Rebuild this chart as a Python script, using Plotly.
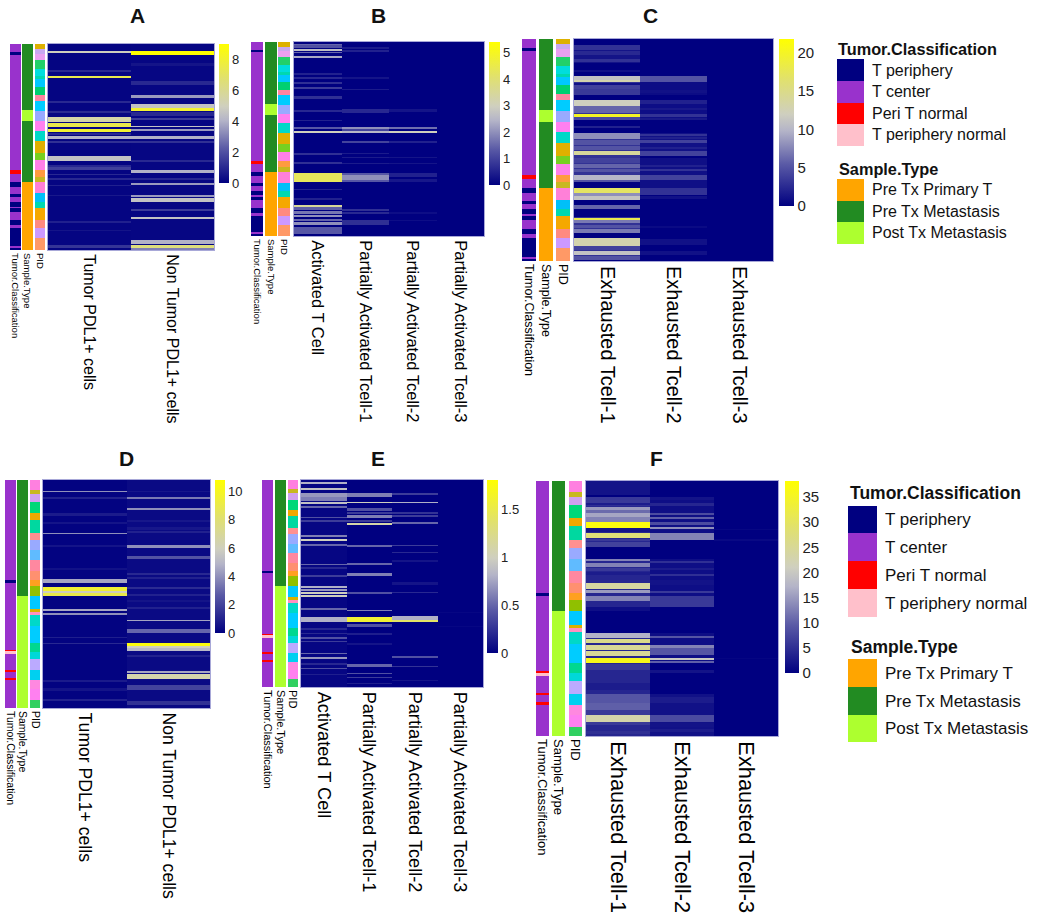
import plotly.graph_objects as go

W, H = 1050, 924
FONT = "Liberation Sans"

# ---------- annotation tracks: (start %, end %, category) ----------
TUMOR_NAMES = ["T periphery", "T center", "Peri T normal", "T periphery normal"]
TUMOR_COLORS = ["#000080", "#9932CC", "#FF0000", "#FFC0CB"]
SAMPLE_NAMES = ["Pre Tx Primary T", "Pre Tx Metastasis", "Post Tx Metastasis"]
SAMPLE_COLORS = ["#FFA500", "#228B22", "#ADFF2F"]

TOP_TUMOR = [(0, 4, 1), (4, 5.2, 0), (5.2, 61.2, 1), (61.2, 63, 2), (63, 67, 1), (67, 69.3, 0), (69.3, 72.8, 1),
             (72.8, 74.3, 0), (74.3, 76.7, 1), (76.7, 79, 0), (79, 79.8, 1), (79.8, 81.4, 0), (81.4, 85.5, 1),
             (85.5, 88, 0), (88, 89.5, 1), (89.5, 98, 0), (98, 99, 1), (99, 100, 0)]
TOP_SAMPLE = [(0, 32.1, 1), (32.1, 37.4, 2), (37.4, 67, 1), (67, 100, 0)]
TOP_PID = [(0, 2.4, "#DDB100"), (2.4, 4.7, "#C8A8F0"), (4.7, 7.9, "#E9A0F0"), (7.9, 12.1, "#22D06A"),
           (12.1, 15.7, "#00DDDD"), (15.7, 17, "#00D8B0"), (17, 20.8, "#00C8FF"), (20.8, 24.9, "#00D070"),
           (24.9, 27.5, "#FF85A0"), (27.5, 32.3, "#00CCFF"), (32.3, 37.2, "#99AAFF"), (37.2, 42, "#FF80F0"),
           (42, 46.9, "#00D8C8"), (46.9, 52.7, "#E0B000"), (52.7, 56.5, "#77D020"), (56.5, 61.4, "#FF80E8"),
           (61.4, 64.6, "#FF9B40"), (64.6, 67, "#C8B820"), (67, 72.5, "#FF80D8"), (72.5, 76.6, "#00C0F8"),
           (76.6, 79.8, "#00D8B0"), (79.8, 85.5, "#F5A800"), (85.5, 89.5, "#FF8A80"), (89.5, 94.3, "#CC99FF"),
           (94.3, 100, "#FF9966")]

BOT_TUMOR = [(0, 43.9, 1), (43.9, 45.1, 0), (45.1, 74.4, 1), (74.4, 75.1, 2), (75.1, 76.3, 3), (76.3, 83.3, 1),
             (83.3, 84, 2), (84, 86.8, 1), (86.8, 87.8, 2), (87.8, 100, 1)]
BOT_SAMPLE = [(0, 51, 1), (51, 100, 2)]
BOT_PID = [(0, 4.4, "#FF80E0"), (4.4, 6.3, "#C8B820"), (6.3, 9.5, "#D0A0F0"), (9.5, 14.6, "#00D878"),
           (14.6, 17.6, "#F0A800"), (17.6, 23.1, "#00D8A0"), (23.1, 26.1, "#FF9090"), (26.1, 30.7, "#99AAFF"),
           (30.7, 35.1, "#60BBFF"), (35.1, 40, "#FF88A0"), (40, 43.9, "#FF9070"), (43.9, 46.6, "#FFA020"),
           (46.6, 51, "#90C000"), (51, 56.4, "#00C8FF"), (56.4, 57.8, "#D8B000"), (57.8, 59.4, "#FF90C0"),
           (59.4, 64.1, "#00D8C8"), (64.1, 71.5, "#00CCFF"), (71.5, 75.4, "#00D890"), (75.4, 78.6, "#00D8D8"),
           (78.6, 83.5, "#BBAAFF"), (83.5, 87.8, "#00D0F0"), (87.8, 91.8, "#FF88E0"), (91.8, 96.3, "#FF80F0"),
           (96.3, 100, "#30D060")]

# ---------- expression bands per column: (first row, end row, value); later bands overwrite earlier ----------
A_ROWS = 206
A_TUMOR = [(0, 206, .12), (7, 9, 5), (26, 28, 1), (32, 34, 7.5), (57, 59, 1), (67, 69, 1), (73, 78, 5.5), (79, 83, 7.5), (85, 88, 8),
           (89, 91, 1), (92, 95, 4), (97, 99, 1.2), (112, 117, 4.5), (121, 123, 1), (123, 126, 1.6), (130, 131, 1),
           (134, 136, 1), (141, 142, .8), (151, 152, .6), (177, 179, .8), (186, 187, .5), (201, 204, 1.3)]
A_NONTUMOR = [(0, 206, .15), (7, 11, 9), (19, 22, .5), (37, 41, 1), (51, 54, 3.5), (60, 64, 4.5), (64, 67, 8), (68, 72, 1), (74, 76, 1.5),
              (82, 83, 4.5), (85, 87, 3.5), (92, 95, 4), (97, 99, 1.2), (116, 118, 1), (126, 129, 4), (134, 136, 1),
              (139, 141, 3.5), (151, 153, 3.5), (154, 158, 4.5), (165, 167, 1.5), (173, 175, 4.5), (196, 200, 4),
              (201, 204, 6.5), (204, 206, 3)]

B_ROWS = 194
B_ACTIVATED = [(2, 3, 1.5), (3, 6, 1.2), (7, 9, 2.6), (10, 11, 1.5), (14, 16, 2.3), (31, 33, .5), (35, 37, .6), (40, 42, .7),
               (45, 47, .9), (54, 57, .7), (68, 70, .6), (78, 79, .5), (85, 87, 1.3), (89, 91, 3), (111, 113, .7),
               (120, 122, .7), (131, 140, 4.3), (147, 148, .5), (156, 158, .5), (163, 165, 3.5), (165, 168, 1.4),
               (169, 172, 1.7), (173, 175, 2), (177, 179, 1.5), (180, 183, 2), (185, 192, 1.3)]
B_PARTIAL1 = [(5, 7, .4), (8, 10, .5), (35, 37, .3), (47, 48, .4), (67, 71, .6), (85, 87, 2), (87, 89, 1), (89, 91, 2.5),
              (99, 101, 1), (111, 112, .4), (115, 116, .4), (121, 122, .4), (131, 133, 1.3), (133, 138, 2), (138, 140, 1.3),
              (167, 169, .7), (170, 172, .6), (178, 180, .7), (180, 183, .7)]
B_PARTIAL2 = [(67, 70, .3), (85, 87, 1.6), (89, 91, 3), (99, 101, .5), (115, 116, .3), (121, 122, .3), (131, 135, .5),
              (137, 140, .35), (170, 172, .2), (178, 179, .2)]
B_PARTIAL3 = []

C_ROWS = 222
C_EXH1 = [(6, 24, 1.2), (37, 56, 3), (61, 81, 3), (87, 89, 2), (94, 143, 3), (149, 161, 4), (166, 170, 3), (181, 194, 3), (199, 221, 3),
          (6, 11, 3), (12, 16, 2.5), (20, 23, 3), (31, 33, 1), (37, 41, 11), (41, 43, 13), (44, 46, 1), (46, 50, 4),
          (50, 56, 3.5), (61, 67, 12), (67, 74, 6), (75, 78, 20), (78, 81, 4.5), (94, 100, 8), (101, 106, 5),
          (107, 111, 5), (112, 116, 14), (119, 124, 4), (125, 129, 6), (130, 133, 5), (136, 141, 10), (141, 143, 5),
          (149, 154, 17), (154, 157, 8), (157, 161, 11), (166, 170, 6), (178, 179, 3), (179, 181, 18), (181, 184, 7),
          (186, 189, 5), (190, 194, 7), (199, 207, 13), (207, 211, 4), (212, 216, 11), (217, 221, 5)]
C_EXH2 = [(37, 56, .7), (61, 81, .8), (94, 117, 1), (119, 156, .9), (37, 43, 5), (51, 54, 1), (61, 65, 2), (69, 71, 1.5), (75, 78, 3), (79, 81, 1.5), (95, 97, 3), (98, 100, 2),
          (101, 104, 4), (108, 110, 2), (112, 117, 4), (126, 128, 2), (130, 132, 3), (136, 141, 4), (149, 156, 3),
          (157, 160, 1), (187, 189, .6), (200, 206, 1), (212, 216, 1)]
C_EXH3 = []

D_ROWS = 228
D_TUMOR = [(0, 228, .1), (11, 12, 4), (17, 19, 1), (33, 36, .8), (42, 44, .6), (53, 54, 4), (65, 67, .6), (88, 90, .5), (99, 103, 4.5),
           (107, 111, 9.5), (111, 113, 6), (113, 116, 9), (129, 131, 4.5), (133, 135, 4), (157, 158, .9), (163, 164, 1.2),
           (200, 202, .8), (208, 211, .6), (219, 221, 1)]
D_NONTUMOR = [(0, 228, .3), (11, 12, .7), (17, 19, 3.5), (28, 30, 4), (40, 42, .7), (47, 50, .7), (51, 53, 1), (65, 68, 4), (76, 79, 2.5),
              (93, 95, 1.2), (97, 99, 1), (107, 109, 1.3), (114, 116, 1), (120, 122, .6), (127, 129, 1), (140, 141, 4.5),
              (149, 153, 3), (163, 166, 10.5), (166, 168, 6), (168, 171, 5), (175, 177, 1), (191, 193, 4.5), (194, 199, 6.5),
              (205, 210, 2), (221, 225, 1.5)]

E_ROWS = 207
E_ACTIVATED = [(0, 207, .03), (2, 4, .8), (8, 10, .9), (13, 17, .7), (17, 21, .6), (22, 24, .9), (26, 28, .5), (37, 38, .4), (40, 42, .3),
               (55, 57, .6), (59, 61, 1), (64, 66, .5), (84, 85, .5), (87, 89, .2), (95, 97, .3), (106, 108, .8), (109, 111, .7),
               (112, 114, 1), (115, 117, 1), (128, 130, .5), (137, 142, .8), (148, 150, .2), (153, 154, .2), (157, 159, .4),
               (161, 162, .3), (173, 174, .5), (177, 179, .7), (183, 185, .2), (188, 189, .4), (194, 195, .15)]
E_PARTIAL1 = [(13, 17, .6), (22, 23, 1), (28, 31, .4), (32, 34, .3), (35, 38, .6), (40, 42, .3), (43, 45, 1.1), (65, 67, .5),
              (83, 85, .5), (93, 96, .6), (112, 114, .4), (130, 131, .6), (137, 142, 1.6), (144, 147, .4), (153, 155, .15),
              (163, 165, .1), (184, 187, .5), (193, 194, .4), (197, 198, .3), (203, 204, .15)]
E_PARTIAL2 = [(13, 15, .3), (22, 23, .8), (32, 34, .25), (35, 37, .3), (42, 44, .5), (65, 66, .3), (72, 73, .2), (80, 82, .1),
              (102, 105, .1), (112, 113, .2), (136, 138, .8), (138, 140, .8), (140, 142, 1.4), (176, 178, .4), (186, 187, .25),
              (200, 201, .1)]
E_PARTIAL3 = [(132, 133, .03), (146, 147, .03)]

F_ROWS = 255
F_EXH1 = [(0, 14, 2), (16, 25, 5), (25, 66, 4), (78, 126, 4), (126, 130, 1.5), (152, 196, 4), (196, 255, 4),
          (2, 9, 2), (16, 22, 6), (22, 24, 3), (26, 29, 15), (29, 32, 11), (32, 36, 16), (36, 41, 13), (41, 47, 37), (47, 51, 2),
          (52, 57, 28), (58, 60, 6), (61, 66, 7), (78, 80, 13), (82, 86, 13), (87, 90, 6), (91, 94, 3), (102, 108, 24),
          (109, 112, 15), (113, 115, 4), (115, 120, 13), (121, 126, 4), (152, 157, 17), (158, 162, 26), (164, 169, 25),
          (170, 175, 25), (177, 182, 36), (183, 189, 6), (189, 196, 4), (202, 209, 3), (213, 222, 9), (222, 229, 10),
          (229, 234, 6), (234, 241, 23), (241, 244, 6), (245, 249, 4), (250, 253, 5)]
F_EXH2 = [(16, 59, 1.5), (78, 126, 1.5), (152, 182, 1.5), (213, 255, 1.8), (16, 19, 2), (22, 25, 4), (32, 34, 8), (36, 38, 10), (41, 44, 8), (46, 48, 14), (52, 59, 13), (80, 82, 5), (87, 89, 3),
          (93, 95, 5), (99, 104, 2), (110, 112, 6), (115, 126, 6), (155, 157, 9), (164, 167, 13), (167, 174, 9), (177, 179, 20),
          (180, 182, 10), (189, 192, 2), (216, 222, 3), (234, 241, 8), (242, 246, 2), (248, 251, 3)]
F_EXH3 = [(48, 49, .7), (58, 60, 1), (177, 178, .5)]

# ---------- category labels ----------
PDL1_LABELS = ["Tumor PDL1+ cells", "Non Tumor PDL1+ cells"]
ACT_LABELS = ["Activated T Cell", "Partially Activated Tcell-1", "Partially Activated Tcell-2", "Partially Activated Tcell-3"]
EXH_LABELS = ["Exhausted Tcell-1", "Exhausted Tcell-2", "Exhausted Tcell-3"]
TRACK_LABELS = ["Tumor.Classification", "Sample.Type", "PID"]

HEAT_SCALE = [[0, "#000080"], [.25, "#5a5aa6"], [.45, "#b4b4c8"], [.55, "#cfcfbf"], [.75, "#e0e070"], [1, "#ffff00"]]

# ---------- panels ----------
PANELS = [
    dict(name="A", tx=137, ty=15, rows=A_ROWS, cols=[A_TUMOR, A_NONTUMOR], labels=PDL1_LABELS, top=True, vmax=9.0, dtick=2,
         tr=[(10, 21), (22, 33), (35, 45)], heat=(48, 214), y=(44, 250), cb=(219, 229, 183), lf=16, tf=9.5, cf=13),
    dict(name="B", tx=378, ty=15, rows=B_ROWS, cols=[B_ACTIVATED, B_PARTIAL1, B_PARTIAL2, B_PARTIAL3], labels=ACT_LABELS, top=True,
         vmax=5.4, dtick=1, tr=[(251, 263), (265, 277), (278, 290)], heat=(294, 484), y=(42, 236), cb=(489, 500, 185), lf=16.5, tf=9.5, cf=13),
    dict(name="C", tx=650, ty=15, rows=C_ROWS, cols=[C_EXH1, C_EXH2, C_EXH3], labels=EXH_LABELS, top=True, vmax=21.8, dtick=5,
         tr=[(522, 536), (539, 553), (556, 570)], heat=(574, 773), y=(39, 261), cb=(779, 794, 206), lf=20, tf=12.5, cf=15),
    dict(name="D", tx=126, ty=458, rows=D_ROWS, cols=[D_TUMOR, D_NONTUMOR], labels=PDL1_LABELS, top=False, vmax=10.8, dtick=2,
         tr=[(5, 16), (17, 28), (30, 40)], heat=(43, 210), y=(480, 708), cb=(215, 225, 633), lf=17.6, tf=10.5, cf=13),
    dict(name="E", tx=378, ty=458, rows=E_ROWS, cols=[E_ACTIVATED, E_PARTIAL1, E_PARTIAL2, E_PARTIAL3], labels=ACT_LABELS, top=False,
         vmax=1.81, dtick=.5, tr=[(262, 273), (275, 286), (288, 298)], heat=(301, 483), y=(480, 687), cb=(487, 498, 653), lf=18.2, tf=11, cf=13),
    dict(name="F", tx=656, ty=458, rows=F_ROWS, cols=[F_EXH1, F_EXH2, F_EXH3], labels=EXH_LABELS, top=False, vmax=38.2, dtick=5,
         tr=[(536, 549), (552, 565), (569, 582)], heat=(586, 778), y=(481, 736), cb=(785, 799, 673), lf=21.8, tf=13, cf=15),
]

# ---------- legends ----------
LEGENDS = [
    dict(title="Tumor.Classification", names=TUMOR_NAMES, colors=TUMOR_COLORS, tx=837, ty=49, sx=(837, 864),
         edges=[59, 81, 103, 124, 146], lx=871, tsize=16.3, size=16),
    dict(title="Sample.Type", names=SAMPLE_NAMES, colors=SAMPLE_COLORS, tx=838, ty=169, sx=(837, 864),
         edges=[179, 201, 222, 244], lx=871, tsize=16.3, size=16),
    dict(title="Tumor.Classification", names=TUMOR_NAMES, colors=TUMOR_COLORS, tx=849, ty=493, sx=(848, 877),
         edges=[506, 533, 561, 589, 617], lx=884, tsize=17.5, size=17),
    dict(title="Sample.Type", names=SAMPLE_NAMES, colors=SAMPLE_COLORS, tx=850, ty=647, sx=(848, 877),
         edges=[659, 687, 715, 742], lx=884, tsize=17.5, size=17),
]


def px(v):
    return v / W


def py(v):
    return 1 - v / H


def raster(col, rows):
    out = [0.0] * rows
    for a, b, v in col:
        for i in range(a, min(b, rows)):
            out[i] = v
    return out


fig = go.Figure()
layout = {}
axis_no = [0]


def new_axes(xdom, ydom, labels, font_size, yrange, standoff=3, border=False):
    axis_no[0] += 1
    n = axis_no[0]
    sx = "" if n == 1 else str(n)
    layout["xaxis" + sx] = dict(
        domain=[px(xdom[0]), px(xdom[1])], anchor="y" + sx, type="category", categoryorder="array", categoryarray=labels,
        range=[-.5, len(labels) - .5], side="bottom", tickangle=90, ticks="", ticklen=0, showgrid=False, zeroline=False,
        tickfont=dict(family=FONT, size=font_size, color="#000000"), ticklabelstandoff=standoff, automargin=False,
        showline=border, linecolor="#a8a8d8", linewidth=1, mirror=border, fixedrange=True)
    layout["yaxis" + sx] = dict(
        domain=[py(ydom[1]), py(ydom[0])], anchor="x" + sx, range=yrange, showticklabels=False, ticks="", showgrid=False,
        zeroline=False, showline=border, linecolor="#a8a8d8", linewidth=1, mirror=border, fixedrange=True)
    return "x" + sx, "y" + sx


def step_scale(colors):
    n = len(colors)
    scale = []
    for i, c in enumerate(colors):
        scale.append([i / n, c])
        scale.append([(i + 1) / n, c])
    return scale


def add_track(bands, label, palette, xdom, ydom, font_size):
    xa, ya = new_axes(xdom, ydom, [label], font_size, [100, 0], standoff=2)
    edges = [bands[0][0]] + [b[1] for b in bands]
    if palette is None:
        colors = [b[2] for b in bands]
        z = [[i] for i in range(len(bands))]
    else:
        colors = palette
        z = [[b[2]] for b in bands]
    fig.add_trace(go.Heatmap(x=[label], y=edges, z=z, colorscale=step_scale(colors), zmin=-.5, zmax=len(colors) - .5,
                             showscale=False, hoverinfo="skip", xaxis=xa, yaxis=ya))


annotations = []
shapes = []

for p in PANELS:
    tumor, sample, pid = (TOP_TUMOR, TOP_SAMPLE, TOP_PID) if p["top"] else (BOT_TUMOR, BOT_SAMPLE, BOT_PID)
    add_track(tumor, TRACK_LABELS[0], TUMOR_COLORS, p["tr"][0], p["y"], p["tf"])
    add_track(sample, TRACK_LABELS[1], SAMPLE_COLORS, p["tr"][1], p["y"], p["tf"])
    add_track(pid, TRACK_LABELS[2], None, p["tr"][2], p["y"], p["tf"])

    xa, ya = new_axes(p["heat"], p["y"], p["labels"], p["lf"], [p["rows"], 0], standoff=0, border=True)
    columns = [raster(c, p["rows"]) for c in p["cols"]]
    z = [list(r) for r in zip(*columns)]
    fig.add_trace(go.Heatmap(
        x=p["labels"], y=list(range(p["rows"] + 1)), z=z, zmin=0, zmax=p["vmax"], colorscale=HEAT_SCALE,
        hoverinfo="skip", xaxis=xa, yaxis=ya,
        colorbar=dict(x=px(p["cb"][0]), xanchor="left", y=py(p["y"][0]), yanchor="top", xpad=0, ypad=0,
                      thicknessmode="pixels", thickness=p["cb"][1] - p["cb"][0], lenmode="pixels", len=p["cb"][2] - p["y"][0],
                      outlinewidth=0, ticks="", tick0=0, dtick=p["dtick"], ticklabelposition="outside",
                      tickfont=dict(family=FONT, size=p["cf"], color="#222222"))))
    annotations.append(dict(x=px(p["tx"]), y=py(p["ty"]), xref="paper", yref="paper", text="<b>%s</b>" % p["name"], showarrow=False,
                            font=dict(family=FONT, size=21, color="#111111"), xanchor="center", yanchor="middle"))

for lg in LEGENDS:
    annotations.append(dict(x=px(lg["tx"]), y=py(lg["ty"]), xref="paper", yref="paper", text="<b>%s</b>" % lg["title"], showarrow=False,
                            xanchor="left", yanchor="middle", xshift=-1, font=dict(family=FONT, size=lg["tsize"], color="#111111")))
    for i, (name, color) in enumerate(zip(lg["names"], lg["colors"])):
        y0, y1 = lg["edges"][i], lg["edges"][i + 1]
        shapes.append(dict(type="rect", xref="paper", yref="paper", x0=px(lg["sx"][0]), x1=px(lg["sx"][1]), y0=py(y0), y1=py(y1),
                           fillcolor=color, line=dict(width=0)))
        annotations.append(dict(x=px(lg["lx"]), y=py((y0 + y1) / 2), xref="paper", yref="paper", text=name, showarrow=False,
                                xanchor="left", yanchor="middle", xshift=-1, font=dict(family=FONT, size=lg["size"], color="#111111")))

fig.update_layout(width=W, height=H, margin=dict(l=0, r=0, t=0, b=0), paper_bgcolor="white", plot_bgcolor="white",
                  showlegend=False, annotations=annotations, shapes=shapes, font=dict(family=FONT), **layout)

fig.write_html("out.html", config={"displayModeBar": False},
               post_script="document.body.style.margin='0';document.documentElement.style.overflow='hidden';")
